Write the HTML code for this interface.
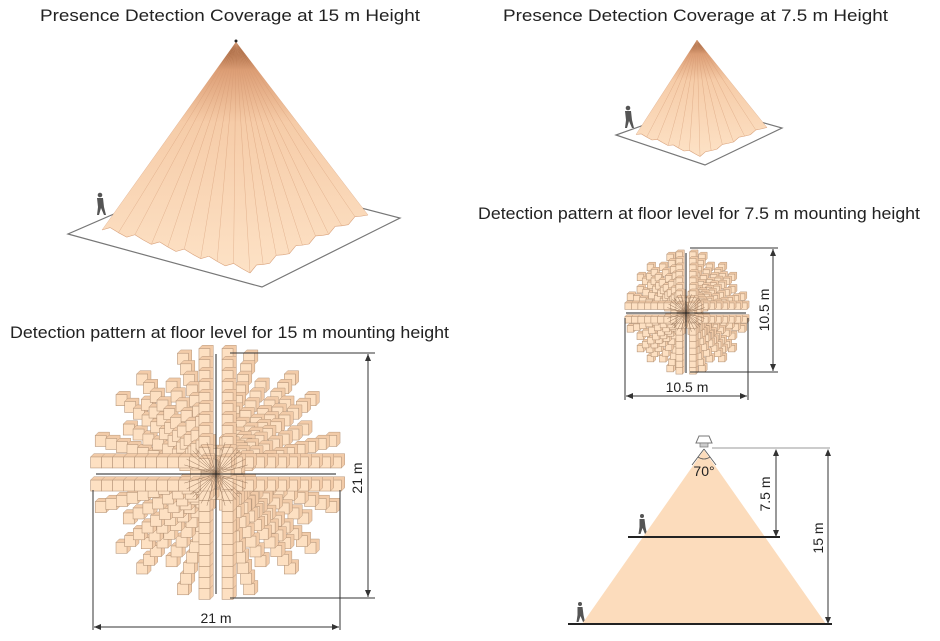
<!DOCTYPE html>
<html><head><meta charset="utf-8"><style>
html,body{margin:0;padding:0;background:#fff;}
svg{display:block;font-family:"Liberation Sans","DejaVu Sans",sans-serif;}
</style></head><body>
<svg id="s" width="940" height="641" viewBox="0 0 940 641" xmlns="http://www.w3.org/2000/svg">
<defs>
<linearGradient id="pg" x1="0" y1="0" x2="0" y2="1">
<stop offset="0" stop-color="#8a4a25"/><stop offset="0.12" stop-color="#dc9d74"/><stop offset="0.35" stop-color="#f6cca8"/><stop offset="1" stop-color="#fde2c6"/>
</linearGradient>
</defs>
<g font-size="17" fill="#222">
<text x="40" y="21" textLength="380" lengthAdjust="spacingAndGlyphs">Presence Detection Coverage at 15 m Height</text>
<text x="503" y="21" textLength="385" lengthAdjust="spacingAndGlyphs">Presence Detection Coverage at 7.5 m Height</text>
<text x="10" y="338" textLength="439" lengthAdjust="spacingAndGlyphs">Detection pattern at floor level for 15 m mounting height</text>
<text x="478" y="219" textLength="442" lengthAdjust="spacingAndGlyphs">Detection pattern at floor level for 7.5 m mounting height</text>
</g>
<polygon points="68,234 262,287 400,218 215,170" fill="#fff" stroke="#777" stroke-width="1.2"/>
<polygon points="616,135 705,165 782,128 700,105" fill="#fff" stroke="#777" stroke-width="1.2"/>
<g id="pyr"></g>
<g fill="#555">
<circle cx="100" cy="195" r="2.3"/><path d="M97,198 h6 l1,9 l2,8 h-2 l-3,-7 l-2,7 h-2 l1,-8 z"/>
<circle cx="628" cy="108" r="2.3"/><path d="M625,111 h6 l1,9 l2,8 h-2 l-3,-7 l-2,7 h-2 l1,-8 z"/>
<circle cx="642" cy="516" r="2"/><path d="M639.5,519 h5 l1,8 l1.5,7 h-2 l-2.5,-6 l-2,6 h-2 l1,-7 z"/>
<circle cx="580" cy="604" r="2"/><path d="M577.5,607 h5 l1,8 l1.5,7 h-2 l-2.5,-6 l-2,6 h-2 l1,-7 z"/>
</g>
<g id="pat"></g>
<g stroke="#333" stroke-width="1" fill="none">
<line x1="230" y1="353" x2="375" y2="353"/><line x1="230" y1="598" x2="375" y2="598"/>
<line x1="368" y1="354" x2="368" y2="597"/>
<line x1="93" y1="490" x2="93" y2="630"/><line x1="340" y1="490" x2="340" y2="630"/>
<line x1="94" y1="627" x2="339" y2="627"/>
<line x1="690" y1="248" x2="778" y2="248"/><line x1="690" y1="372" x2="778" y2="372"/>
<line x1="773" y1="249" x2="773" y2="371"/>
<line x1="625" y1="318" x2="625" y2="400"/><line x1="748" y1="318" x2="748" y2="400"/>
<line x1="626" y1="396" x2="747" y2="396"/>
</g>
<g fill="#333">
<polygon points="368,354 365,361 371,361"/><polygon points="368,597 365,590 371,590"/>
<polygon points="94,627 101,624 101,630"/><polygon points="339,627 332,624 332,630"/>
<polygon points="773,249 770,256 776,256"/><polygon points="773,371 770,364 776,364"/>
<polygon points="626,396 633,393 633,399"/><polygon points="747,396 740,393 740,399"/>
</g>
<g font-size="14" fill="#222">
<text x="216" y="623" text-anchor="middle">21 m</text>
<text transform="translate(362,478) rotate(-90)" text-anchor="middle">21 m</text>
<text x="687" y="392" text-anchor="middle">10.5 m</text>
<text transform="translate(769,310) rotate(-90)" text-anchor="middle">10.5 m</text>
</g>
<polygon points="704,450 582,624 826,624" fill="#fcdcbc"/>
<line x1="628" y1="537" x2="780" y2="537" stroke="#222" stroke-width="2"/>
<line x1="568" y1="624" x2="832" y2="624" stroke="#222" stroke-width="2"/>
<line x1="712" y1="448" x2="830" y2="448" stroke="#999" stroke-width="1"/>
<line x1="776" y1="450" x2="776" y2="536" stroke="#333"/><polygon points="776,449 773,456 779,456" fill="#333"/><polygon points="776,537 773,530 779,530" fill="#333"/>
<line x1="828" y1="450" x2="828" y2="623" stroke="#333"/><polygon points="828,449 825,456 831,456" fill="#333"/><polygon points="828,624 825,617 831,617" fill="#333"/>
<path d="M699,436 h10 l3,7 h-16 z" fill="#fff" stroke="#777"/><rect x="700" y="443" width="8" height="4" fill="#ccc" stroke="#777" stroke-width="0.7"/>
<path d="M704,449 L692,465 M704,449 L716,465" stroke="#555" fill="none" stroke-width="0.8"/>
<path d="M698,457 Q704,461 710,457" stroke="#555" fill="none" stroke-width="0.8"/>
<g font-size="14" fill="#222">
<text x="704" y="476" text-anchor="middle">70°</text>
<text transform="translate(770,494) rotate(-90)" text-anchor="middle">7.5 m</text>
<text transform="translate(823,538) rotate(-90)" text-anchor="middle">15 m</text>
</g>
<circle cx="236" cy="41" r="1.5" fill="#222"/>
</svg>
<script>
var NS="http://www.w3.org/2000/svg";
function el(p,t,a){var e=document.createElementNS(NS,t);for(var k in a)e.setAttribute(k,a[k]);p.appendChild(e);return e;}
var pyr=document.getElementById("pyr");
function pyramid(ax,ay,L,B,R,n,amp){
 var pts=[];
 for(var i=0;i<=n;i++){var t=i/n,x,y,u;
  if(t<0.5){u=t*2;x=L[0]+(B[0]-L[0])*u;y=L[1]+(B[1]-L[1])*u;}else{u=(t-0.5)*2;x=B[0]+(R[0]-B[0])*u;y=B[1]+(R[1]-B[1])*u;}
  y+=(i%3==0?amp:(i%3==1?-amp*0.6:amp*0.3));pts.push([x,y]);}
 el(pyr,"polygon",{points:ax+","+ay+" "+pts.map(function(p){return p.join(",")}).join(" "),fill:"url(#pg)"});
 for(var i=0;i<pts.length;i+=2){el(pyr,"line",{x1:ax,y1:ay,x2:pts[i][0],y2:pts[i][1],stroke:"#d39872","stroke-width":0.5,opacity:0.6});}
 for(var i=0;i<pts.length-1;i++)el(pyr,"line",{x1:pts[i][0],y1:pts[i][1],x2:pts[i+1][0],y2:pts[i+1][1],stroke:"#d9a27c","stroke-width":0.6});
}
pyramid(236,42,[102,227],[250,270],[368,212],36,3);
pyramid(697,40,[636,133],[700,155],[767,126],24,1.5);
var pat=document.getElementById("pat");
function box(x,y,s){
 var o=s*0.3;
 el(pat,"path",{d:"M"+(x-s/2)+","+(y-s/2)+" l"+o+","+(-o)+" h"+s+" v"+s+" l"+(-o)+","+o+"z",fill:"#f2cba8",stroke:"#b8987c","stroke-width":0.5});
 el(pat,"rect",{x:x-s/2,y:y-s/2,width:s,height:s,fill:"#fde0c2",stroke:"#b8987c","stroke-width":0.6});
}
function pattern(cx,cy,R,s){
 var rays=[];
 for(var q=0;q<4;q++){var base=q*90;[16,27,38,45,52,63,74].forEach(function(a,i){rays.push({a:base+a,m:(i%2?0.88:1.0),off:0});});
  rays.push({a:base,m:1.0,off:s*1.05});rays.push({a:base+90,m:1.0,off:-s*1.05});}
 // draw outer first so inner overlaps properly
 var items=[];
 rays.forEach(function(r){var ang=r.a*Math.PI/180,c=Math.cos(ang),sn=Math.sin(ang);
  for(var d=s*0.9;d<R*r.m;d+=s*1.0){items.push([cx+c*d-sn*r.off,cy+sn*d+c*r.off,d]);}});
 items.sort(function(a,b){return b[2]-a[2];});
 items.forEach(function(it){box(it[0],it[1],s);});
 rays.forEach(function(r){var ang=r.a*Math.PI/180;
  el(pat,"line",{x1:cx,y1:cy,x2:cx+Math.cos(ang)*s*3,y2:cy+Math.sin(ang)*s*3,stroke:"#9a7a60","stroke-width":0.5});});
 el(pat,"line",{x1:cx,y1:cy-R,x2:cx,y2:cy+R,stroke:"#222","stroke-width":1});
 el(pat,"line",{x1:cx-R,y1:cy,x2:cx+R,y2:cy,stroke:"#222","stroke-width":1});
}
pattern(216,474,120,11);
pattern(686,313,60,6.5);
</script>
</body></html>
